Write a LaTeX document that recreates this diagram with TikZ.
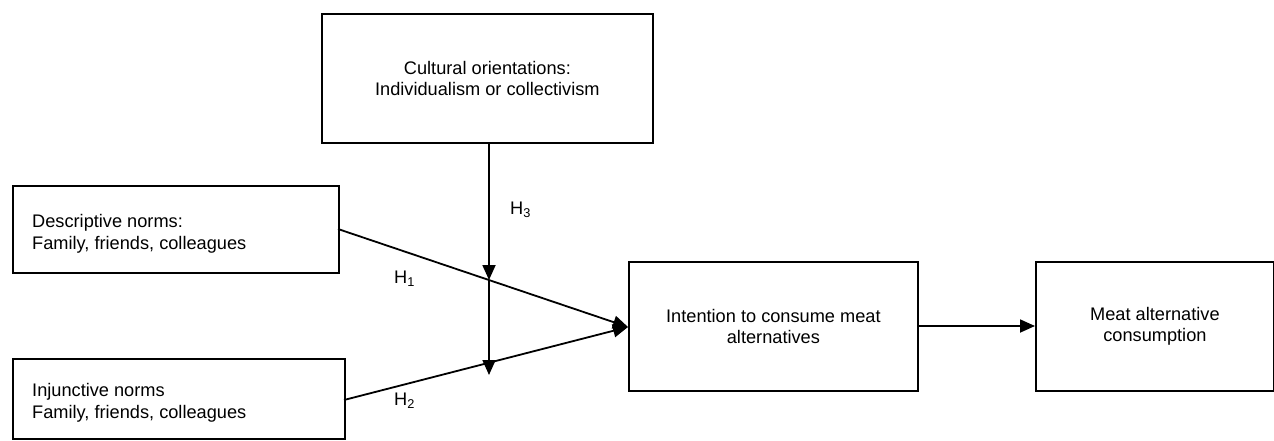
\documentclass[tikz,border=0pt]{standalone}
\usepackage{fontspec}
\setmainfont{Liberation Sans}
\usetikzlibrary{arrows.meta}
\begin{document}
\begin{tikzpicture}[x=1pt,y=-1pt,
  box/.style={draw=black,line width=1.8pt,inner sep=0pt,anchor=north west},
  txt/.style={font=\fontsize{18.2pt}{21.5pt}\selectfont,align=center,inner sep=0pt},
  ltxt/.style={font=\fontsize{18.2pt}{21.5pt}\selectfont,align=left,inner sep=0pt,anchor=west},
  hl/.style={font=\fontsize{18.2pt}{21.5pt}\selectfont,inner sep=0pt,anchor=west},
  conn/.style={line width=1.8pt,-{Triangle[length=15pt,width=13pt]}},
  plain/.style={line width=1.8pt}]
\useasboundingbox (0,0) rectangle (1274,440);
% boxes
\node[box,minimum width=331pt,minimum height=129pt] (cult) at (321,13) {};
\node[txt] (cultt) at (cult.center) {Cultural orientations:\\Individualism or collectivism};
\node[box,minimum width=326pt,minimum height=87pt] (desc) at (12,185) {};
\node[ltxt] (desct) at (32,234) {Descriptive norms:\\Family, friends, colleagues};
\node[box,minimum width=332pt,minimum height=80pt] (inj) at (12,358) {};
\node[ltxt] (injt) at (32,403) {Injunctive norms\\Family, friends, colleagues};
\node[box,minimum width=289pt,minimum height=129pt] (int) at (628,261) {};
\node[txt] (intt) at (int.center) {Intention to consume meat\\alternatives};
\node[box,minimum width=238pt,minimum height=129pt] (meat) at (1035,261) {};
\node[txt] (meatt) at (meat.center) {Meat alternative\\consumption};
% connector points
\coordinate (ctop) at (489,142);
\coordinate (m1) at (489,280);
\coordinate (m2) at (489,375);
\coordinate (d1) at (338,229);
\coordinate (i1) at (344,400);
\coordinate (tip) at (628,327);
% connectors
\draw[conn] (d1) -- (tip);
\draw[conn] (i1) -- (tip);
\draw[conn] (ctop) -- (m1);
\draw[conn] (m1) -- (m2);
\draw[conn] (int.east |- 0,326) -- (meat.west |- 0,326);
% labels
\node[hl] (h3) at (510,210) {H\textsubscript{3}};
\node[hl] (h1) at (394,279) {H\textsubscript{1}};
\node[hl] (h2) at (394,401) {H\textsubscript{2}};
\end{tikzpicture}
\end{document}
